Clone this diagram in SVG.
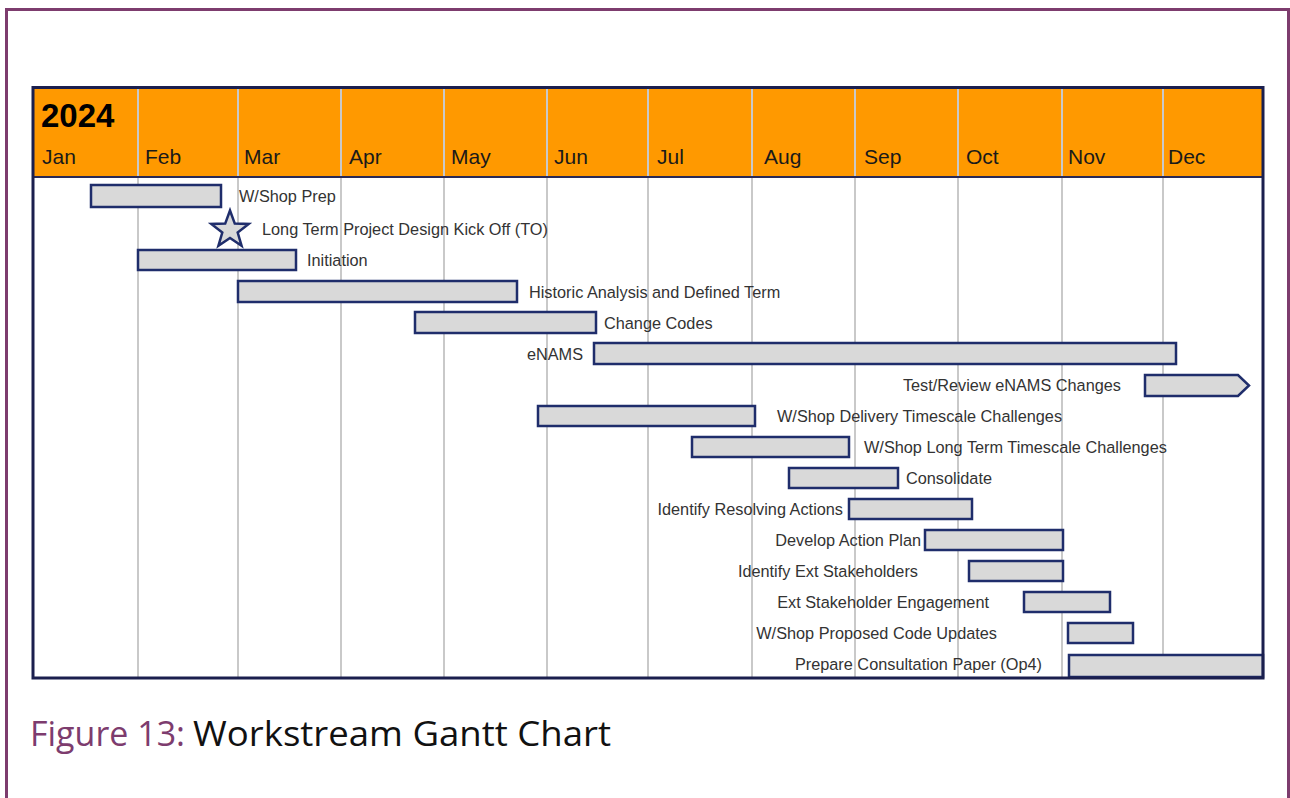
<svg xmlns="http://www.w3.org/2000/svg" width="1290" height="798" viewBox="0 0 1290 798">
  <style>
    .month { font-family: "Liberation Sans", Arial, sans-serif; font-size: 21px; fill: #1a1a1a; }
    .year { font-family: "Liberation Sans", Arial, sans-serif; font-size: 33px; font-weight: bold; fill: #000; }
    .lbl { font-family: "Liberation Sans", Arial, sans-serif; font-size: 16.3px; fill: #333; }
    .end { text-anchor: end; }
    .grid { stroke: #c9c9c9; stroke-width: 2; }
    .bar { fill: #d9d9d9; stroke: #1f2d6b; stroke-width: 2.5; }
    .cap { font-family: "Open Sans", "Noto Sans", sans-serif; font-size: 34px; }
  </style>

  <rect width="1290" height="798" fill="#fff"/>
  <!-- page frame -->
  <path d="M6.5 800 V9.5 H1288.5 V800" fill="none" stroke="#7d3c6e" stroke-width="3"/>

  <!-- header band -->
  <rect x="33" y="88" width="1230" height="89" fill="#ff9900"/>

  <!-- month gridlines -->
  <g id="grid">
    <line class="grid" x1="138" y1="88" x2="138" y2="678"/>
    <line class="grid" x1="238" y1="88" x2="238" y2="678"/>
    <line class="grid" x1="341" y1="88" x2="341" y2="678"/>
    <line class="grid" x1="444" y1="88" x2="444" y2="678"/>
    <line class="grid" x1="547" y1="88" x2="547" y2="678"/>
    <line class="grid" x1="648" y1="88" x2="648" y2="678"/>
    <line class="grid" x1="752" y1="88" x2="752" y2="678"/>
    <line class="grid" x1="855" y1="88" x2="855" y2="678"/>
    <line class="grid" x1="958" y1="88" x2="958" y2="678"/>
    <line class="grid" x1="1062" y1="88" x2="1062" y2="678"/>
    <line class="grid" x1="1163" y1="88" x2="1163" y2="678"/>
  </g>

  <line x1="33" y1="177" x2="1263" y2="177" stroke="#2a2a55" stroke-width="2"/>

  <g id="header">
    <text class="year" x="41" y="127">2024</text>
    <text class="month" x="42" y="164">Jan</text>
    <text class="month" x="145" y="164">Feb</text>
    <text class="month" x="244" y="164">Mar</text>
    <text class="month" x="349" y="164">Apr</text>
    <text class="month" x="451" y="164">May</text>
    <text class="month" x="554" y="164">Jun</text>
    <text class="month" x="657" y="164">Jul</text>
    <text class="month" x="764" y="164">Aug</text>
    <text class="month" x="864" y="164">Sep</text>
    <text class="month" x="966" y="164">Oct</text>
    <text class="month" x="1068" y="164">Nov</text>
    <text class="month" x="1168" y="164">Dec</text>
  </g>

  <!-- tasks -->
  <g id="t01"><rect class="bar" x="91" y="185" width="130" height="22"/><text class="lbl" x="239" y="202">W/Shop Prep</text></g>
  <g id="t02"><polygon class="bar" points="230,210.5 234.8,223.6 248.7,224 237.7,232.5 241.6,245.8 230,238 218.4,245.8 222.3,232.5 211.3,224 225.2,223.6"/><text class="lbl" x="262" y="235">Long Term Project Design Kick Off (TO)</text></g>
  <g id="t03"><rect class="bar" x="138" y="250" width="158" height="20"/><text class="lbl" x="307" y="266">Initiation</text></g>
  <g id="t04"><rect class="bar" x="238" y="281" width="279" height="21"/><text class="lbl" x="529" y="298">Historic Analysis and Defined Term</text></g>
  <g id="t05"><rect class="bar" x="415" y="312" width="181" height="21"/><text class="lbl" x="604" y="329">Change Codes</text></g>
  <g id="t06"><rect class="bar" x="594" y="343" width="582" height="21"/><text class="lbl end" x="583" y="360">eNAMS</text></g>
  <g id="t07"><polygon class="bar" points="1145,375 1238,375 1249,385.5 1238,396 1145,396"/><text class="lbl end" x="1121" y="391">Test/Review eNAMS Changes</text></g>
  <g id="t08"><rect class="bar" x="538" y="406" width="217" height="20"/><text class="lbl" x="777" y="422">W/Shop Delivery Timescale Challenges</text></g>
  <g id="t09"><rect class="bar" x="692" y="437" width="157" height="20"/><text class="lbl" x="864" y="453">W/Shop Long Term Timescale Challenges</text></g>
  <g id="t10"><rect class="bar" x="789" y="468" width="109" height="20"/><text class="lbl" x="906" y="484">Consolidate</text></g>
  <g id="t11"><rect class="bar" x="849" y="499" width="123" height="20"/><text class="lbl end" x="843" y="515">Identify Resolving Actions</text></g>
  <g id="t12"><rect class="bar" x="925" y="530" width="138" height="20"/><text class="lbl end" x="921" y="546">Develop Action Plan</text></g>
  <g id="t13"><rect class="bar" x="969" y="561" width="94" height="20"/><text class="lbl end" x="918" y="577">Identify Ext Stakeholders</text></g>
  <g id="t14"><rect class="bar" x="1024" y="592" width="86" height="20"/><text class="lbl end" x="989" y="608">Ext Stakeholder Engagement</text></g>
  <g id="t15"><rect class="bar" x="1068" y="623" width="65" height="20"/><text class="lbl end" x="997" y="639">W/Shop Proposed Code Updates</text></g>
  <g id="t16"><rect class="bar" x="1069" y="655" width="194" height="22"/><text class="lbl end" x="1042" y="670">Prepare Consultation Paper (Op4)</text></g>

  <!-- chart frame -->
  <rect x="33" y="87.5" width="1230" height="590.5" fill="none" stroke="#1b1f4e" stroke-width="3"/>

  <!-- caption -->
  <text class="cap" x="30" y="746" fill="#7d3c6e" textLength="155" lengthAdjust="spacingAndGlyphs">Figure 13:</text>
  <text class="cap" x="193" y="746" fill="#111" textLength="418" lengthAdjust="spacingAndGlyphs">Workstream Gantt Chart</text>
</svg>
